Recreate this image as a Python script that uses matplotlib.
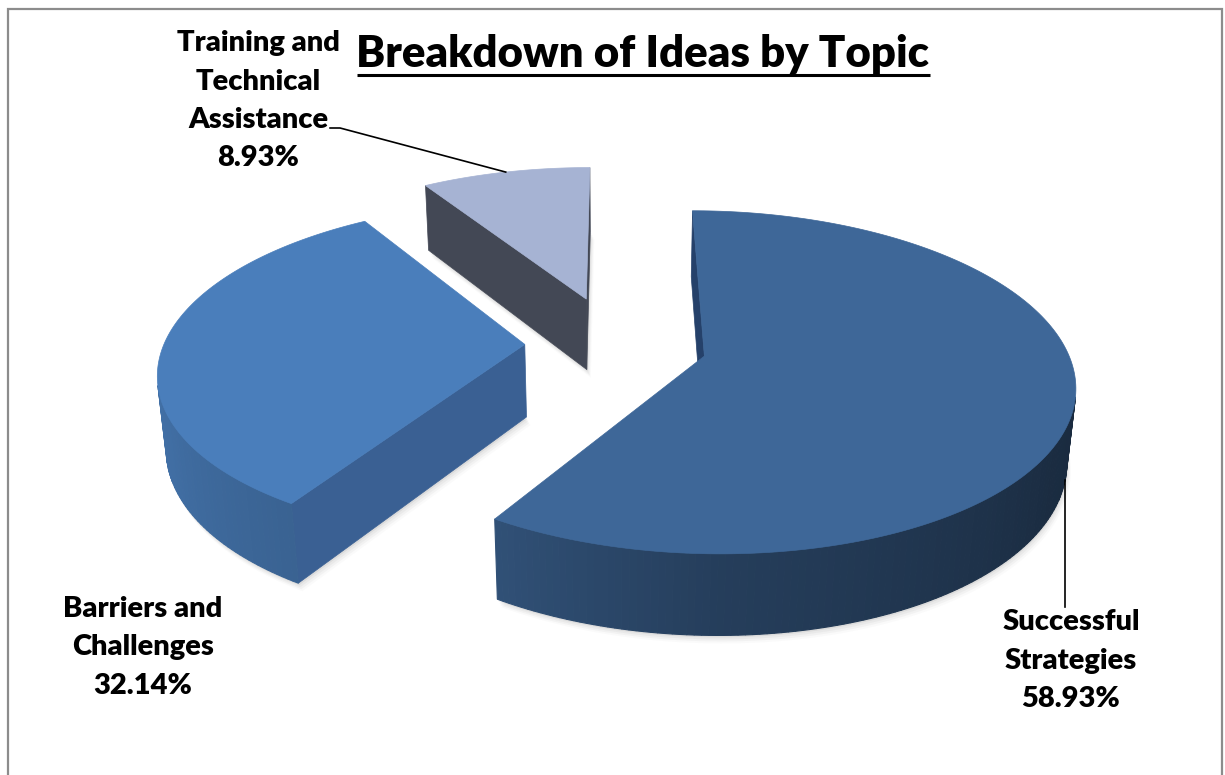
import numpy as np
import matplotlib
matplotlib.use("Agg")
import matplotlib.pyplot as plt
from matplotlib.patches import Polygon
from matplotlib.colors import to_rgb

# ---------------- data ----------------
topics = ["Successful\nStrategies", "Barriers and\nChallenges",
          "Training and\nTechnical\nAssistance"]
percentages = [58.93, 32.14, 8.93]
explode = [0.255, 0.25, 0.30]
face_colors = ["#3E6798", "#4A7EBB", "#A6B3D3"]
cut_colors = ["#25416A", "#3A6093", "#434855"]
title = "Breakdown of Ideas by Topic"

# ---------------- view ----------------
W, H = 1225, 775
CX, CY = 615.0, 417.0          # projection centre (pixels)
FOCAL, DIST = 2089.0, 5.9      # perspective camera
ELEV = np.radians(29.0)        # viewing elevation
THICK = 0.23                   # pie height (in radii)
SE, CE = np.sin(ELEV), np.cos(ELEV)
CAM = np.array([0.0, -DIST * CE, DIST * SE])

FONT = ["Lato", "DejaVu Sans"]
WEIGHT = "heavy"


def project(x, y, z):
    x = np.asarray(x, float)
    y = np.asarray(y, float)
    z = np.asarray(z, float) * np.ones_like(x)
    up = y * SE + z * CE
    depth = y * CE - z * SE
    s = FOCAL / (DIST + depth)
    return CX + x * s, CY - up * s


def visible(normal, point):
    return np.dot(normal, CAM - np.asarray(point)) > 0


SHADE_ANG = [90, 120, 180, 212, 245, 270]
SHADE_K = [0.40, 0.43, 0.60, 0.78, 0.87, 0.90]


def shade(rgb, theta_deg):
    k = np.interp(theta_deg, SHADE_ANG, SHADE_K)
    return tuple(np.clip(np.array(rgb) * k, 0, 1))


fig = plt.figure(figsize=(W / 100, H / 100), dpi=100)
ax = fig.add_axes([0, 0, 1, 1])
ax.set_xlim(0, W)
ax.set_ylim(H, 0)
ax.axis("off")

# frame
ax.plot([8, 8, 1222, 1222], [H + 5, 9, 9, H + 5], color="#8C8C8C", lw=1.6,
        solid_joinstyle="miter", zorder=1)

# slice geometry
total = sum(percentages)
bounds = np.concatenate([[0.0], np.cumsum(percentages)]) / total * 360.0
slices = []
for i, pct in enumerate(percentages):
    a0, a1 = bounds[i], bounds[i + 1]
    mid = np.radians((a0 + a1) / 2)
    ox, oy = explode[i] * np.sin(mid), explode[i] * np.cos(mid)
    n = int(a1 - a0) + 2
    th = np.radians(np.linspace(a0, a1, n))
    slices.append(dict(i=i, a0=a0, a1=a1, mid=mid, ox=ox, oy=oy, th=th))

# soft drop shadows under every slice
for sl in slices:
    xs = np.concatenate([[sl["ox"]], sl["ox"] + np.sin(sl["th"])])
    ys = np.concatenate([[sl["oy"]], sl["oy"] + np.cos(sl["th"])])
    px, py = project(xs, ys, 0.0)
    for dx, dy, a in [(1, 2, 0.10), (2, 4, 0.07), (3, 6, 0.05), (4, 8, 0.03)]:
        ax.add_patch(Polygon(np.c_[px + dx, py + dy], closed=True,
                             facecolor="#707070", edgecolor="none", alpha=a,
                             zorder=2))

# draw slices back to front
z = 3
for sl in sorted(slices, key=lambda s: -s["oy"]):
    i, ox, oy, th = sl["i"], sl["ox"], sl["oy"], sl["th"]
    rgb = to_rgb(face_colors[i])

    # radial cut faces
    for ang, sgn in [(sl["a0"], -1), (sl["a1"], 1)]:
        a = np.radians(ang)
        na = np.radians(ang + sgn * 90)
        normal = np.array([np.sin(na), np.cos(na), 0.0])
        centre = [ox + 0.5 * np.sin(a), oy + 0.5 * np.cos(a), THICK / 2]
        if visible(normal, centre):
            xs = [ox, ox + np.sin(a), ox + np.sin(a), ox]
            ys = [oy, oy + np.cos(a), oy + np.cos(a), oy]
            zs = [THICK, THICK, 0, 0]
            px, py = project(xs, ys, zs)
            ax.add_patch(Polygon(np.c_[px, py], closed=True,
                                 facecolor=cut_colors[i],
                                 edgecolor=cut_colors[i], lw=0.5, zorder=z))

    # curved outer wall
    for j in range(len(th) - 1):
        t0, t1 = th[j], th[j + 1]
        tm = 0.5 * (t0 + t1)
        normal = np.array([np.sin(tm), np.cos(tm), 0.0])
        pt = [ox + np.sin(tm), oy + np.cos(tm), THICK / 2]
        if not visible(normal, pt):
            continue
        xs = [ox + np.sin(t0), ox + np.sin(t1), ox + np.sin(t1), ox + np.sin(t0)]
        ys = [oy + np.cos(t0), oy + np.cos(t1), oy + np.cos(t1), oy + np.cos(t0)]
        zs = [THICK, THICK, 0, 0]
        px, py = project(xs, ys, zs)
        c = shade(rgb, np.degrees(tm))
        ax.add_patch(Polygon(np.c_[px, py], closed=True, facecolor=c,
                             edgecolor=c, lw=0.8, zorder=z))

    # top face
    xs = np.concatenate([[ox], ox + np.sin(th)])
    ys = np.concatenate([[oy], oy + np.cos(th)])
    px, py = project(xs, ys, THICK)
    ax.add_patch(Polygon(np.c_[px, py], closed=True, facecolor=rgb,
                         edgecolor=rgb, lw=0.5, zorder=z + 1))
    z += 2

# ---------------- labels ----------------
LINE_PITCH = 38.5
label_specs = {
    0: dict(x=1071, y=630),
    1: dict(x=143, y=617),
    2: dict(x=258, y=51),
}
label_texts = {}
for i, (name, pct) in enumerate(zip(topics, percentages)):
    lines = f"{name}\n{pct:.2f}%".split("\n")
    spec = label_specs[i]
    objs = []
    for k, line in enumerate(lines):
        t = ax.text(spec["x"], spec["y"] + k * LINE_PITCH, line,
                    ha="center", va="baseline", fontsize=21,
                    fontweight=WEIGHT, family=FONT, color="black", zorder=20)
        objs.append(t)
    label_texts[i] = objs

title_txt = ax.text(643, 67, title, ha="center", va="baseline", fontsize=31.5,
                    fontweight=WEIGHT, family=FONT, color="black", zorder=20)

fig.canvas.draw()
renderer = fig.canvas.get_renderer()
inv = ax.transData.inverted()

# title underline
bb = title_txt.get_window_extent(renderer)
(x0, yb), (x1, _) = inv.transform([[bb.x0, bb.y0], [bb.x1, bb.y0]])
ax.plot([x0, x1], [yb + 1, yb + 1], color="black", lw=2.2, zorder=20,
        solid_capstyle="butt")

# leader: Training and Technical Assistance
sl = slices[2]
rx, ry = project(sl["ox"] + np.sin(sl["mid"]), sl["oy"] + np.cos(sl["mid"]),
                 THICK)
bb = label_texts[2][2].get_window_extent(renderer)
(lx, ly), = inv.transform([[bb.x1, bb.y0]])
base_y = label_specs[2]["y"] + 2 * LINE_PITCH
ax.plot([lx + 2, lx + 12, float(rx)], [base_y, base_y, float(ry)],
        color="black", lw=1.2, zorder=20)

# leader: Successful Strategies
sl = slices[0]
rx, ry = project(sl["ox"] + np.sin(sl["mid"]), sl["oy"] + np.cos(sl["mid"]),
                 0.0)
bb = label_texts[0][0].get_window_extent(renderer)
(_, top_y), = inv.transform([[bb.x0, bb.y1]])
ax.plot([float(rx), float(rx)], [float(ry), top_y - 2], color="black", lw=1.2,
        zorder=20)

fig.savefig("out.png", dpi=100)
